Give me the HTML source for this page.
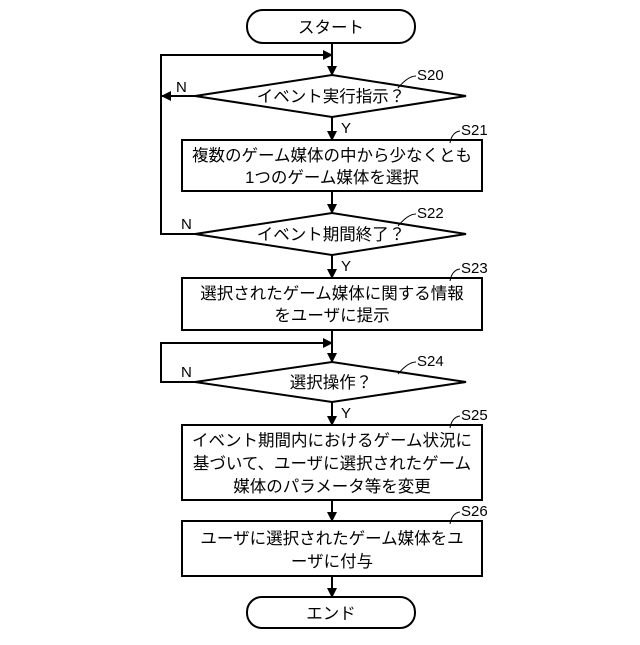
<!DOCTYPE html>
<html><head><meta charset="utf-8"><style>
body{margin:0;background:#fff}
text{font-family:"Liberation Sans","Noto Sans CJK JP",sans-serif;fill:#000}
</style></head><body>
<svg width="640" height="640" viewBox="0 0 640 640" xmlns="http://www.w3.org/2000/svg">
<defs><marker id="a" markerWidth="10" markerHeight="10" refX="9" refY="5" orient="auto" markerUnits="userSpaceOnUse"><path d="M0,0 L10,5 L0,10 z" fill="#000"/></marker></defs>
<g stroke="#000" stroke-width="2" fill="none">
<rect x="247" y="10" width="168" height="33" rx="16"/>
<rect x="247" y="597" width="168" height="31" rx="15"/>
<polygon points="195,96 332,75 466,96 332,117"/>
<polygon points="195,234 332,213 466,234 332,255"/>
<polygon points="195,382 332,362 466,382 332,402"/>
<rect x="182" y="140" width="300" height="51"/>
<rect x="182" y="278" width="300" height="52"/>
<rect x="182" y="425" width="300" height="75"/>
<rect x="182" y="521" width="300" height="55"/>
<line x1="332" y1="43" x2="332" y2="75" marker-end="url(#a)"/>
<line x1="332" y1="117" x2="332" y2="140" marker-end="url(#a)"/>
<line x1="332" y1="191" x2="332" y2="213" marker-end="url(#a)"/>
<line x1="332" y1="255" x2="332" y2="278" marker-end="url(#a)"/>
<line x1="332" y1="330" x2="332" y2="362" marker-end="url(#a)"/>
<line x1="332" y1="402" x2="332" y2="425" marker-end="url(#a)"/>
<line x1="332" y1="500" x2="332" y2="521" marker-end="url(#a)"/>
<line x1="332" y1="576" x2="332" y2="597" marker-end="url(#a)"/>
<polyline points="195,234 161,234 161,55 332,55" marker-end="url(#a)"/>
<line x1="195" y1="96" x2="162" y2="96" marker-end="url(#a)"/>
<polyline points="195,382 161,382 161,343 332,343" marker-end="url(#a)"/>
<g stroke-width="1">
<path d="M398,88 Q408,76 416,76"/>
<path d="M450,143 Q452,132 460,131"/>
<path d="M398,226 Q408,214 416,214"/>
<path d="M450,281 Q452,270 460,269"/>
<path d="M398,374 Q408,362 416,362"/>
<path d="M450,428 Q452,417 460,416"/>
<path d="M450,524 Q452,513 460,512"/>
</g>
</g>
<g font-size="16.5" text-anchor="middle">
<text x="331" y="33">スタート</text>
<text x="331" y="619">エンド</text>
<text x="331" y="102">イベント実行指示？</text>
<text x="331" y="240">イベント期間終了？</text>
<text x="331" y="388">選択操作？</text>
<text x="332" y="161">複数のゲーム媒体の中から少なくとも</text>
<text x="332" y="183">1つのゲーム媒体を選択</text>
<text x="332" y="299">選択されたゲーム媒体に関する情報</text>
<text x="332" y="321">をユーザに提示</text>
<text x="332" y="446">イベント期間内におけるゲーム状況に</text>
<text x="332" y="469">基づいて、ユーザに選択されたゲーム</text>
<text x="332" y="492">媒体のパラメータ等を変更</text>
<text x="332" y="544">ユーザに選択されたゲーム媒体をユ</text>
<text x="332" y="567">ーザに付与</text>
</g>
<g font-size="15">
<text x="417" y="80">S20</text>
<text x="461" y="135">S21</text>
<text x="417" y="218">S22</text>
<text x="461" y="273">S23</text>
<text x="417" y="366">S24</text>
<text x="461" y="420">S25</text>
<text x="461" y="516">S26</text>
<text x="176" y="92">N</text>
<text x="181" y="229">N</text>
<text x="181" y="377">N</text>
<text x="341" y="133">Y</text>
<text x="341" y="271">Y</text>
<text x="341" y="418">Y</text>
</g>
</svg>
</body></html>
